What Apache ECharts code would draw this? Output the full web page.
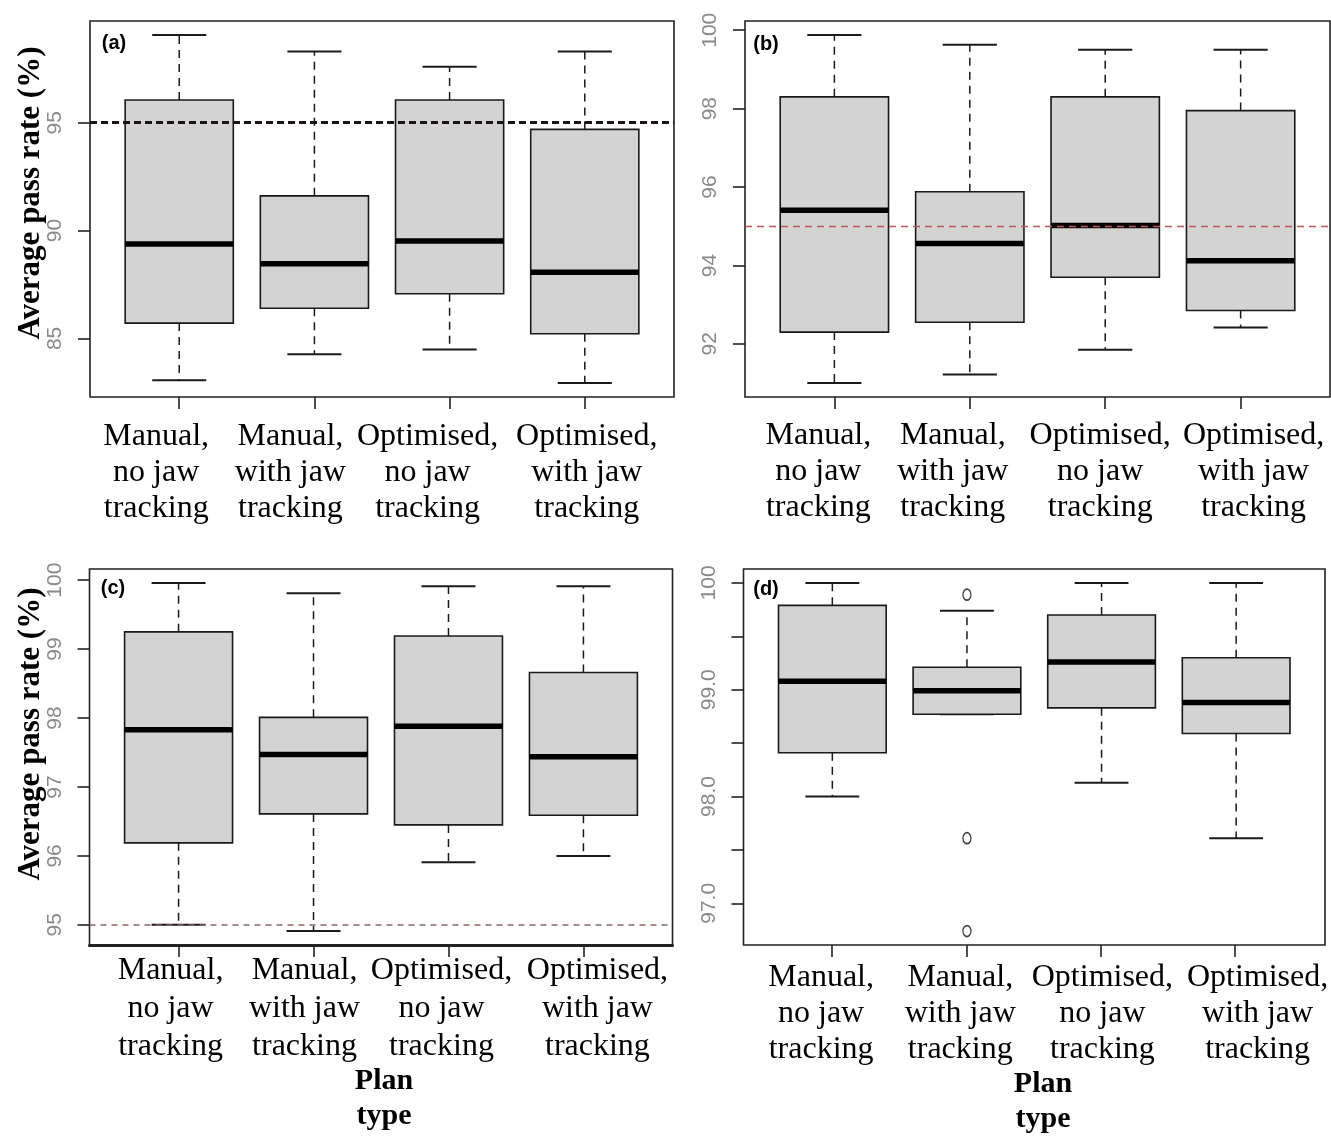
<!DOCTYPE html>
<html><head><meta charset="utf-8">
<script src="https://cdn.jsdelivr.net/npm/echarts@6/dist/echarts.min.js"></script>
<style>html,body{margin:0;padding:0;background:#fff}#c{width:1331px;height:1136px}</style>
</head><body><div id="c"></div>
<script>
// ---------- DATA ----------
const categories = ['Manual,\nno jaw\ntracking', 'Manual,\nwith jaw\ntracking', 'Optimised,\nno jaw\ntracking', 'Optimised,\nwith jaw\ntracking'];
// each box: [lower whisker, Q1, median, Q3, upper whisker]
const boxesA = [[83.06, 85.71, 89.38, 96.05, 99.07], [84.27, 86.40, 88.46, 91.61, 98.30], [84.49, 87.07, 89.52, 96.05, 97.59], [82.93, 85.22, 88.07, 94.69, 98.30]];
const boxesB = [[91.00, 92.30, 95.41, 98.30, 99.88], [91.22, 92.55, 94.56, 95.88, 99.63], [91.85, 93.70, 95.02, 98.30, 99.50], [92.42, 92.85, 94.12, 97.95, 99.50]];
const boxesC = [[95.00, 96.19, 97.83, 99.25, 99.96], [94.91, 96.61, 97.47, 98.01, 99.81], [95.91, 96.45, 97.88, 99.19, 99.91], [96.00, 96.59, 97.44, 98.66, 99.91]];
const boxesD = [[98.00, 98.41, 99.08, 99.79, 100.00], [98.77, 98.77, 98.99, 99.21, 99.74], [98.13, 98.83, 99.26, 99.70, 100.00], [97.61, 98.59, 98.88, 99.30, 100.00]];
const outliersA = [[], [], [], []];
const outliersB = [[], [], [], []];
const outliersC = [[], [], [], []];
const outliersD = [[], [99.89, 97.61, 96.74], [], []];
const refLineValue = 95;
const yTicksA = [85, 90, 95];
const yTicksB = [92, 94, 96, 98, 100];
const yTicksC = [95, 96, 97, 98, 99, 100];
const yTicksD = [97, 97.5, 98, 98.5, 99, 99.5, 100];
const yLabelsA = [85, 90, 95];
const yLabelsB = [92, 94, 96, 98, 100];
const yLabelsC = [95, 96, 97, 98, 99, 100];
const yLabelsD = [97, 98, 99, 100];
const panelTags = ['(a)', '(b)', '(c)', '(d)'];
const yTitle = 'Average pass rate (%)';
const xTitle = 'Plan\ntype';

// ---------- LAYOUT / STYLE ----------
const frames = [
  {left: 90, top: 21, width: 584, height: 376},
  {left: 745, top: 21, width: 585, height: 376},
  {left: 89.5, top: 569, width: 583, height: 376},
  {left: 743.5, top: 569, width: 581.5, height: 376}
];
const heavyBottom = [false, false, true, false];
const labelMargin = [22, 21, 7, 15];
const labelLineHeight = [36, 36, 38, 36];
const labelShift = [[-23, -24, -22, 2], [-16, -17, -5, 13], [-8, -9, -7, 14], [-11, -6, 2, 23]];
const refStyles = [
  {color: '#1c1414', width: 3, type: [7, 4]},
  {color: '#b85a5a', width: 1.3, type: [7, 5]},
  {color: '#8a6464', width: 1.5, type: [6, 5]},
  null
];
const tagPos = [[114, 43], [766, 44], [113, 588], [766, 589]];

const panels = [
  {boxes: boxesA, out: outliersA, ticks: yTicksA, labels: yLabelsA, fmt: v => String(v)},
  {boxes: boxesB, out: outliersB, ticks: yTicksB, labels: yLabelsB, fmt: v => String(v)},
  {boxes: boxesC, out: outliersC, ticks: yTicksC, labels: yLabelsC, fmt: v => String(v)},
  {boxes: boxesD, out: outliersD, ticks: yTicksD, labels: yLabelsD, fmt: v => (v === 100 ? '100' : v.toFixed(1))}
];

// R-style axis range: data range extended by 4% on each side
function rRange(boxes, out) {
  let lo = Infinity, hi = -Infinity;
  boxes.forEach((b, i) => {
    const vals = b.concat(out[i]);
    vals.forEach(v => { lo = Math.min(lo, v); hi = Math.max(hi, v); });
  });
  const pad = (hi - lo) * 0.04;
  return [lo - pad, hi + pad];
}

function renderBox(params, api) {
  const x = api.value(0);
  const lo = api.value(1), q1 = api.value(2), med = api.value(3), q3 = api.value(4), hi = api.value(5);
  const unit = api.size([1, 0])[0];
  const half = 0.4 * unit, cap = 0.2 * unit;
  const pLo = api.coord([x, lo]), pQ1 = api.coord([x, q1]), pMed = api.coord([x, med]);
  const pQ3 = api.coord([x, q3]), pHi = api.coord([x, hi]);
  const cx = pLo[0];
  const dash = {stroke: '#1a1a1a', lineWidth: 1.5, lineDash: [8, 6]};
  const solid = {stroke: '#1a1a1a', lineWidth: 2};
  return {
    type: 'group',
    children: [
      {type: 'line', shape: {x1: cx, y1: pQ3[1], x2: cx, y2: pHi[1]}, style: dash},
      {type: 'line', shape: {x1: cx, y1: pQ1[1], x2: cx, y2: pLo[1]}, style: dash},
      {type: 'line', shape: {x1: cx - cap, y1: pHi[1], x2: cx + cap, y2: pHi[1]}, style: solid},
      {type: 'line', shape: {x1: cx - cap, y1: pLo[1], x2: cx + cap, y2: pLo[1]}, style: solid},
      {type: 'rect', shape: {x: cx - half, y: pQ3[1], width: 2 * half, height: pQ1[1] - pQ3[1]},
        style: {fill: '#d3d3d3', stroke: '#1a1a1a', lineWidth: 1.6}},
      {type: 'line', shape: {x1: cx - half, y1: pMed[1], x2: cx + half, y2: pMed[1]},
        style: {stroke: '#000', lineWidth: 5.5}}
    ]
  };
}

const grid = [], xAxis = [], yAxis = [], series = [], graphic = [];
panels.forEach((p, k) => {
  const f = frames[k];
  const [ymin, ymax] = rRange(p.boxes, p.out);
  // outer grid = plot frame, x in box-position units (R: 0.5..4.5 extended by 4%)
  grid.push({left: f.left, top: f.top, width: f.width, height: f.height, show: true,
    borderColor: '#222', borderWidth: 1.6, backgroundColor: 'transparent'});
  const inset = f.width * 0.16 / 4.32;
  grid.push({left: f.left + inset, top: f.top, width: f.width - 2 * inset, height: f.height, show: false});
  const gOuter = 2 * k, gInner = 2 * k + 1;
  xAxis.push({type: 'value', gridIndex: gOuter, min: 0.34, max: 4.66, show: heavyBottom[k],
    axisLine: {show: true, lineStyle: {color: '#222', width: 3}},
    axisTick: {show: false}, axisLabel: {show: false}, splitLine: {show: false}});
  yAxis.push({type: 'value', gridIndex: gOuter, min: ymin, max: ymax,
    axisLine: {show: false}, splitLine: {show: false},
    axisTick: {show: true, inside: false, length: 12, customValues: p.ticks, lineStyle: {color: '#222', width: 1.6}},
    axisLabel: {show: true, customValues: p.labels, rotate: 90, margin: 24, color: '#8a8a8a',
      fontSize: 21, fontFamily: 'Liberation Sans', formatter: p.fmt}
  });
  const rich = {};
  labelShift[k].forEach((s, i) => {
    rich['s' + i] = {fontSize: 32, fontFamily: 'Liberation Serif', color: '#000', lineHeight: labelLineHeight[k],
      padding: s < 0 ? [0, -2 * s, 0, 0] : [0, 0, 0, 2 * s]};
  });
  xAxis.push({type: 'category', gridIndex: gInner, data: categories, boundaryGap: true,
    axisLine: {show: false}, splitLine: {show: false},
    axisTick: {show: true, alignWithLabel: true, length: 12, lineStyle: {color: '#222', width: 1.6}},
    axisLabel: {show: true, interval: 0, margin: labelMargin[k], lineHeight: labelLineHeight[k],
      fontSize: 32, fontFamily: 'Liberation Serif', color: '#000',
      formatter: (v, i) => v.split('\n').map(l => '{s' + i + '|' + l + '}').join('\n'), rich: rich}
  });
  yAxis.push({type: 'value', gridIndex: gInner, min: ymin, max: ymax, show: false});

  const s = {
    type: 'custom', xAxisIndex: 2 * k, yAxisIndex: 2 * k, clip: false,
    renderItem: renderBox, encode: {x: 0, y: [1, 2, 3, 4, 5]},
    data: p.boxes.map((b, i) => [i + 1].concat(b)), z: 2
  };
  if (refStyles[k]) {
    s.markLine = {silent: true, symbol: ['none', 'none'], label: {show: false}, z: 5,
      lineStyle: refStyles[k], data: [{yAxis: refLineValue}]};
  }
  series.push(s);
  const pts = [];
  p.out.forEach((arr, i) => arr.forEach(v => pts.push([i + 1, v])));
  if (pts.length) {
    series.push({type: 'scatter', xAxisIndex: 2 * k, yAxisIndex: 2 * k, data: pts, symbol: 'circle',
      symbolSize: [8, 11], itemStyle: {color: 'rgba(0,0,0,0)', borderColor: '#111', borderWidth: 1.5}, z: 3});
  }
  graphic.push({type: 'text', x: tagPos[k][0], y: tagPos[k][1], z: 10,
    style: {text: panelTags[k], font: 'bold 20px "Liberation Sans"', fill: '#000', align: 'center', verticalAlign: 'middle'}});
});

graphic.push({type: 'text', x: 31, y: 193, rotation: Math.PI / 2, z: 10,
  style: {text: yTitle, font: 'bold 31px "Liberation Serif"', fill: '#000', align: 'center', verticalAlign: 'middle'}});
graphic.push({type: 'text', x: 31, y: 734, rotation: Math.PI / 2, z: 10,
  style: {text: yTitle, font: 'bold 31px "Liberation Serif"', fill: '#000', align: 'center', verticalAlign: 'middle'}});
graphic.push({type: 'text', x: 384, y: 1099, z: 10,
  style: {text: xTitle, font: 'bold 30px "Liberation Serif"', lineHeight: 35, fill: '#000', align: 'center', verticalAlign: 'middle'}});
graphic.push({type: 'text', x: 1043, y: 1102, z: 10,
  style: {text: xTitle, font: 'bold 30px "Liberation Serif"', lineHeight: 35, fill: '#000', align: 'center', verticalAlign: 'middle'}});

const chart = echarts.init(document.getElementById('c'), null, {renderer: 'canvas'});
chart.setOption({animation: false, backgroundColor: '#fff', grid, xAxis, yAxis, series, graphic});
</script>
</body></html>
